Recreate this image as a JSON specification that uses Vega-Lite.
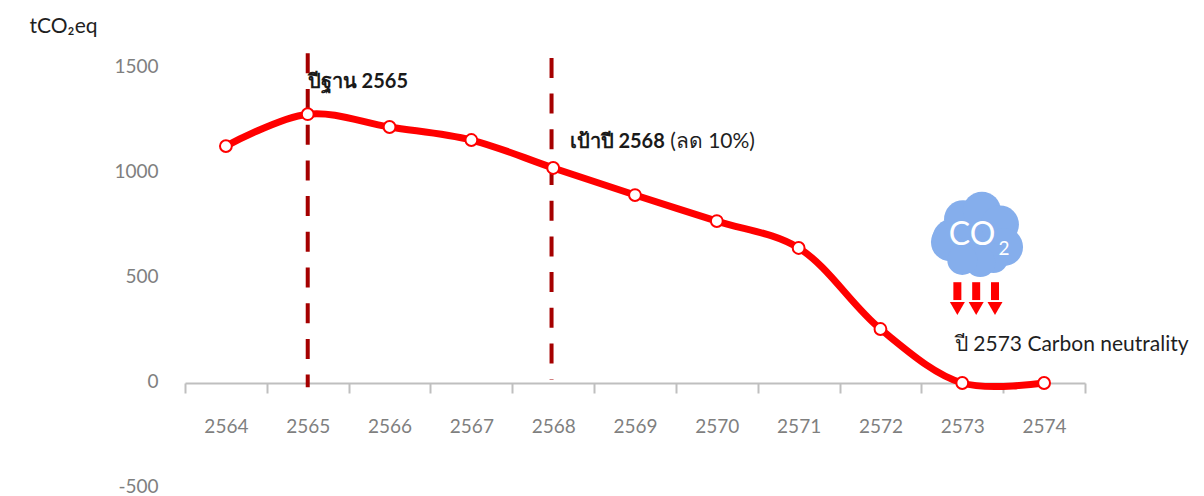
{"$schema":"https://vega.github.io/schema/vega-lite/v6.json","width":900,"height":420,"autosize":{"type":"none"},"padding":{"left":185,"top":68,"right":119,"bottom":8},"background":"white","config":{"view":{"stroke":null},"font":"Lato"},
"datasets":{
"series":[{"year":2564,"v":1128},{"year":2565,"v":1280},{"year":2566,"v":1219},{"year":2567,"v":1157},{"year":2568,"v":1024},{"year":2569,"v":895},{"year":2570,"v":771},{"year":2571,"v":643},{"year":2572,"v":257},{"year":2573,"v":0},{"year":2574,"v":0}],
"marks":[{"year":2565,"from":1570,"to":-20},{"year":2567.98,"from":1548,"to":15}],
"cloud":[{"x":2573.18,"y":695,"part":"core"},{"x":2572.85,"y":671,"part":"lobe"},{"x":2572.87,"y":690,"part":"lobe"},{"x":2573.01,"y":780,"part":"lobe"},{"x":2573.24,"y":820,"part":"lobe"},{"x":2573.46,"y":755,"part":"lobe"},{"x":2573.51,"y":648,"part":"lobe"},{"x":2573.38,"y":595,"part":"foot"},{"x":2573.22,"y":576,"part":"foot"},{"x":2573.0,"y":586,"part":"foot"}],
"arrows":[{"x":2572.94,"from":480,"to":395,"head":355},{"x":2573.17,"from":480,"to":395,"head":355},{"x":2573.4,"from":480,"to":395,"head":355}],
"labels":[{"x":2565,"y":1433,"t":"ปีฐาน 2565","k":"b"},{"x":2568.2,"y":1148,"t":"เป้าปี 2568","k":"b"},{"x":2569.43,"y":1148,"t":"(ลด 10%)","k":"r"},{"x":2572.91,"y":181,"t":"ปี 2573 Carbon neutrality","k":"r"},{"x":2561.6,"y":1695,"t":"tCO₂eq","k":"r"}]
},
"layer":[
{"data":{"name":"series"},"mark":{"type":"point","opacity":0},"encoding":{"x":{"field":"year","type":"quantitative","scale":{"domain":[2563.5,2574.5],"nice":false,"zero":false},"axis":{"orient":"bottom","offset":-105,"values":[2563.5,2564.5,2565.5,2566.5,2567.5,2568.5,2569.5,2570.5,2571.5,2572.5,2573.5,2574.5],"labels":false,"grid":false,"title":null,"domainColor":"#BFBFBF","domainWidth":2,"tickColor":"#BFBFBF","tickWidth":2,"tickSize":10}},"y":{"field":"v","type":"quantitative","scale":{"domain":[-500,1500],"nice":false},"axis":{"values":[-500,0,500,1000,1500],"labelExpr":"datum.value+''","title":null,"grid":false,"domain":false,"ticks":false,"labelPadding":27,"labelOffset":-2,"labelFontSize":19,"labelColor":"#7F7F7F","labelFlush":false,"labelBound":false}}}},
{"data":{"name":"marks"},"mark":{"type":"rule","color":"#A50000","strokeWidth":4,"strokeDash":[20,15.7],"clip":false},"encoding":{"x":{"field":"year","type":"quantitative","axis":{"orient":"bottom","offset":-105,"values":[2564,2565,2566,2567,2568,2569,2570,2571,2572,2573,2574],"format":"d","domain":false,"ticks":false,"grid":false,"title":null,"labelPadding":34,"labelFontSize":19,"labelColor":"#7F7F7F","labelFlush":false}},"y":{"field":"from","type":"quantitative"},"y2":{"field":"to"}}},
{"data":{"name":"series"},"mark":{"type":"line","color":"#FF0000","strokeWidth":7,"interpolate":"catmull-rom"},"encoding":{"x":{"field":"year","type":"quantitative","axis":null},"y":{"field":"v","type":"quantitative"}}},
{"data":{"name":"series"},"mark":{"type":"point","filled":true,"fill":"white","stroke":"#FF0000","strokeWidth":2,"size":140,"opacity":1},"encoding":{"x":{"field":"year","type":"quantitative","axis":null},"y":{"field":"v","type":"quantitative"}}},
{"data":{"name":"cloud"},"mark":{"type":"point","filled":true,"shape":"circle","color":"#85AEEC","opacity":1},"encoding":{"x":{"field":"x","type":"quantitative","axis":null},"y":{"field":"y","type":"quantitative"},"size":{"field":"part","type":"nominal","legend":null,"scale":{"domain":["core","lobe","foot"],"range":[2000,900,530]}}}},
{"data":{"values":[{"x":2573.12,"y":705,"t":"CO"}]},"mark":{"type":"text","color":"white","align":"center","baseline":"middle","fontSize":32},"encoding":{"x":{"field":"x","type":"quantitative","axis":null},"y":{"field":"y","type":"quantitative"},"text":{"field":"t"}}},
{"data":{"values":[{"x":2573.51,"y":640,"t":"2"}]},"mark":{"type":"text","color":"white","align":"center","baseline":"middle","fontSize":19},"encoding":{"x":{"field":"x","type":"quantitative","axis":null},"y":{"field":"y","type":"quantitative"},"text":{"field":"t"}}},
{"data":{"name":"arrows"},"mark":{"type":"rule","color":"#FF0000","strokeWidth":8},"encoding":{"x":{"field":"x","type":"quantitative","axis":null},"y":{"field":"from","type":"quantitative"},"y2":{"field":"to"}}},
{"data":{"name":"arrows"},"mark":{"type":"point","filled":true,"shape":"triangle-down","color":"#FF0000","size":225,"opacity":1},"encoding":{"x":{"field":"x","type":"quantitative","axis":null},"y":{"field":"head","type":"quantitative"}}},
{"data":{"name":"labels"},"transform":[{"filter":"datum.k==='b'"}],"mark":{"type":"text","align":"left","baseline":"middle","fontSize":20,"color":"#1A1A1A","fontWeight":"bold"},"encoding":{"x":{"field":"x","type":"quantitative","axis":null},"y":{"field":"y","type":"quantitative"},"text":{"field":"t"}}},
{"data":{"name":"labels"},"transform":[{"filter":"datum.k==='r'"}],"mark":{"type":"text","align":"left","baseline":"middle","fontSize":21,"color":"#1F1F1F"},"encoding":{"x":{"field":"x","type":"quantitative","axis":null},"y":{"field":"y","type":"quantitative"},"text":{"field":"t"}}}
],
"resolve":{"axis":{"x":"independent"}}}
